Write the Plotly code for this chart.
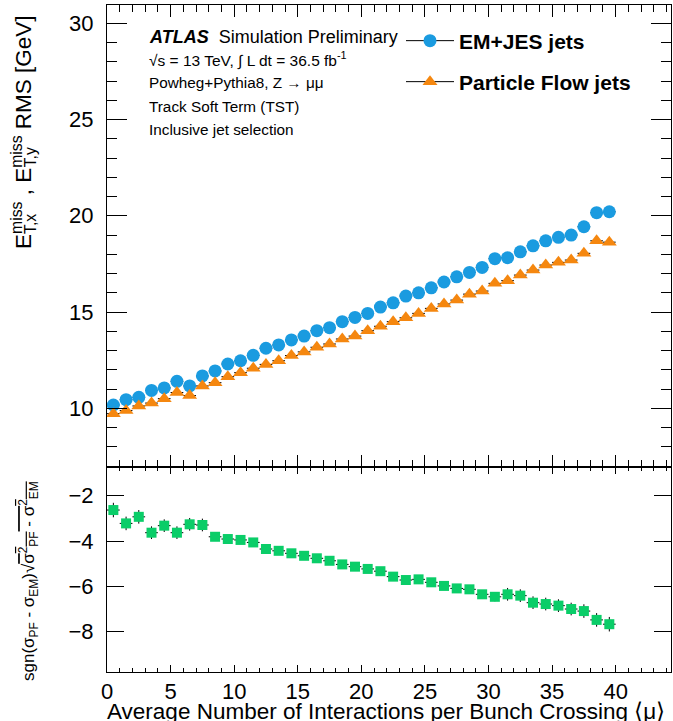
import plotly.graph_objects as go

# ---------------- data ----------------
mu = [0.5, 1.5, 2.5, 3.5, 4.5, 5.5, 6.5, 7.5, 8.5, 9.5,
      10.5, 11.5, 12.5, 13.5, 14.5, 15.5, 16.5, 17.5, 18.5, 19.5,
      20.5, 21.5, 22.5, 23.5, 24.5, 25.5, 26.5, 27.5, 28.5, 29.5,
      30.5, 31.5, 32.5, 33.5, 34.5, 35.5, 36.5, 37.5, 38.5, 39.5]
mu_halfwidth = [0.5] * 40

em_jes = [10.17, 10.45, 10.57, 10.93, 11.06, 11.40, 11.16, 11.68, 11.94, 12.30,
          12.47, 12.75, 13.12, 13.29, 13.55, 13.75, 14.03, 14.19, 14.50, 14.72,
          14.93, 15.26, 15.48, 15.83, 16.00, 16.26, 16.56, 16.83, 17.06, 17.32,
          17.77, 17.82, 18.13, 18.44, 18.70, 18.88, 19.00, 19.43, 20.16, 20.21]
em_jes_err = [0.05] * 40

pflow = [9.72, 9.88, 10.12, 10.27, 10.50, 10.82, 10.66, 11.16, 11.33, 11.64,
         11.85, 12.08, 12.28, 12.47, 12.74, 12.93, 13.17, 13.34, 13.60, 13.75,
         14.03, 14.26, 14.50, 14.70, 14.93, 15.19, 15.42, 15.62, 15.93, 16.09,
         16.49, 16.63, 16.92, 17.18, 17.44, 17.58, 17.70, 18.05, 18.70, 18.63]
pflow_err = [0.05] * 40

diff = [-2.63, -3.22, -2.93, -3.63, -3.32, -3.63, -3.26, -3.29, -3.81, -3.91,
        -3.95, -4.06, -4.35, -4.43, -4.54, -4.65, -4.76, -4.87, -5.03, -5.13,
        -5.23, -5.33, -5.57, -5.72, -5.69, -5.82, -5.98, -6.09, -6.13, -6.35,
        -6.46, -6.35, -6.41, -6.72, -6.78, -6.85, -7.00, -7.09, -7.48, -7.67]
diff_err = [0.32, 0.30, 0.30, 0.28, 0.28, 0.28, 0.28, 0.28, 0.14, 0.13,
            0.12, 0.12, 0.12, 0.12, 0.12, 0.12, 0.12, 0.12, 0.12, 0.12,
            0.12, 0.13, 0.13, 0.13, 0.14, 0.14, 0.15, 0.15, 0.16, 0.18,
            0.20, 0.28, 0.28, 0.28, 0.28, 0.28, 0.28, 0.30, 0.30, 0.32]

x_ticks = [0, 5, 10, 15, 20, 25, 30, 35, 40]
y_top_ticks = [10, 15, 20, 25, 30]
y_bot_ticks = [-8, -6, -4, -2]

BLUE = "#1a9be0"
ORANGE = "#f5870f"
GREEN = "#0acd68"
FONT = "Liberation Sans, Arial, Helvetica, sans-serif"

# ---------------- geometry ----------------
W, H = 673, 721
ML, MR, MT, MB = 107, 2, 5, 49
PW, PH = W - ML - MR, H - MT - MB
SPLIT = (672 - 467) / PH


def px(x):
    return (x - ML) / PW


def py(y):
    return (H - MB - y) / PH


fig = go.Figure()

ex = dict(type="data", array=mu_halfwidth, color="black", thickness=1, width=0)

fig.add_trace(go.Scatter(
    x=mu, y=em_jes, mode="markers", xaxis="x", yaxis="y", showlegend=False,
    marker=dict(symbol="circle", size=13, color=BLUE),
    error_x=ex,
    error_y=dict(type="data", array=em_jes_err, color="black", thickness=1, width=0),
))
fig.add_trace(go.Scatter(
    x=mu, y=pflow, mode="markers", xaxis="x", yaxis="y", showlegend=False,
    marker=dict(symbol="triangle-up", size=13, color=ORANGE),
    error_x=ex,
    error_y=dict(type="data", array=pflow_err, color="black", thickness=1, width=0),
))
fig.add_trace(go.Scatter(
    x=mu, y=diff, mode="markers", xaxis="x2", yaxis="y2", showlegend=False,
    marker=dict(symbol="square", size=10, color=GREEN),
    error_x=ex,
    error_y=dict(type="data", array=diff_err, color="black", thickness=1, width=0),
))

# legend entries
fig.add_trace(go.Scatter(
    x=[None], y=[None], mode="lines+markers", name="<b>EM+JES jets</b>",
    marker=dict(symbol="circle", size=13, color=BLUE),
    line=dict(color="black", width=1), legend="legend",
))
fig.add_trace(go.Scatter(
    x=[None], y=[None], mode="lines+markers", name="<b>Particle Flow jets</b>",
    marker=dict(symbol="triangle-up", size=13, color=ORANGE),
    line=dict(color="black", width=1), legend="legend2",
))

axis_common = dict(
    showline=True, linecolor="black", linewidth=1, mirror="ticks",
    ticks="inside", tickcolor="black", tickwidth=1,
    showgrid=False, zeroline=False,
    tickfont=dict(family=FONT, size=22, color="black"),
)

fig.update_layout(
    width=W, height=H,
    margin=dict(l=ML, r=MR, t=MT, b=MB),
    paper_bgcolor="white", plot_bgcolor="white",
    font=dict(family=FONT, color="black"),
    template="none",
    xaxis=dict(axis_common, domain=[0, 1], anchor="y", range=[0, 44.35],
               tickvals=x_ticks, showticklabels=False, ticklen=12,
               minor=dict(ticks="inside", ticklen=7, dtick=1, tickcolor="black"),
               matches="x2"),
    xaxis2=dict(axis_common, domain=[0, 1], anchor="y2", range=[0, 44.35],
                tickvals=x_ticks, ticklen=7, ticklabelstandoff=0,
                minor=dict(ticks="inside", ticklen=4, dtick=1, tickcolor="black")),
    yaxis=dict(axis_common, domain=[SPLIT, 1], anchor="x", range=[6.95, 30.95],
               tickvals=y_top_ticks, ticklen=20, ticklabelstandoff=8,
               minor=dict(ticks="inside", ticklen=10, dtick=1, tickcolor="black")),
    yaxis2=dict(axis_common, domain=[0, SPLIT], anchor="x2", range=[-9.78, -0.73],
                tickvals=y_bot_ticks, ticklen=17, ticklabelstandoff=8),
    legend=dict(x=px(401), y=py(41), xanchor="left", yanchor="middle",
                bgcolor="rgba(0,0,0,0)", itemwidth=48,
                font=dict(family=FONT, size=21, color="black")),
    legend2=dict(x=px(401), y=py(82), xanchor="left", yanchor="middle",
                 bgcolor="rgba(0,0,0,0)", itemwidth=48,
                 font=dict(family=FONT, size=21, color="black")),
)

ann = []


def txt(text, x, y, size, xanchor="left", yanchor="middle", angle=0):
    ann.append(dict(text=text, x=px(x), y=py(y), xref="paper", yref="paper",
                    xanchor=xanchor, yanchor=yanchor, showarrow=False,
                    textangle=angle, font=dict(family=FONT, size=size, color="black")))


NB = "\u00a0"
txt("<b><i>ATLAS</i></b>" + NB + NB + "Simulation Preliminary", 147, 37, 18)
txt("\u221as = 13 TeV, \u222b L dt = 36.5 fb<sup>-1</sup>", 147, 60, 15.5)
txt("Powheg+Pythia8, Z \u2192 \u03bc\u03bc", 147, 83, 15.3)
txt("Track Soft Term (TST)", 147, 106, 15.3)
txt("Inclusive jet selection", 147, 129, 15.3)

# x axis title
txt("Average Number of Interactions per Bunch Crossing \u27e8\u03bc\u27e9", 667, 711, 22.5,
    xanchor="right")

# y axis title (top) with stacked sub/superscripts built from aligned layers
TR = "<span style='color:rgba(0,0,0,0)'>{}</span>"
layerA = ("E<sup>miss</sup>" + NB + ", E<sup>miss</sup>" + NB + "RMS [GeV]"
          + "<sub>" + TR.format("x") + "</sub>")
layerB = TR.format("E") + "<sub>T,x</sub>" + "<sup>" + TR.format("m") + "</sup>"
layerC = (TR.format("E") + "<sup>" + TR.format("miss") + "</sup>" + TR.format(NB + ", E")
          + "<sub>T,y</sub>")
for layer in (layerA, layerB, layerC):
    txt(layer, 23, 251, 22.5, xanchor="center", yanchor="bottom", angle=-90)

# y axis title (bottom)
txt("sgn(\u03c3<sub>PF</sub> - \u03c3<sub>EM</sub>)\u221a"
    "<span style='text-decoration:overline'>\u03c3<sup>2</sup><sub>PF</sub> - "
    "\u03c3<sup>2</sup><sub>EM</sub></span>",
    28, 683, 17, xanchor="center", yanchor="bottom", angle=-90)

fig.update_layout(annotations=ann)

fig.write_html("out.html")
